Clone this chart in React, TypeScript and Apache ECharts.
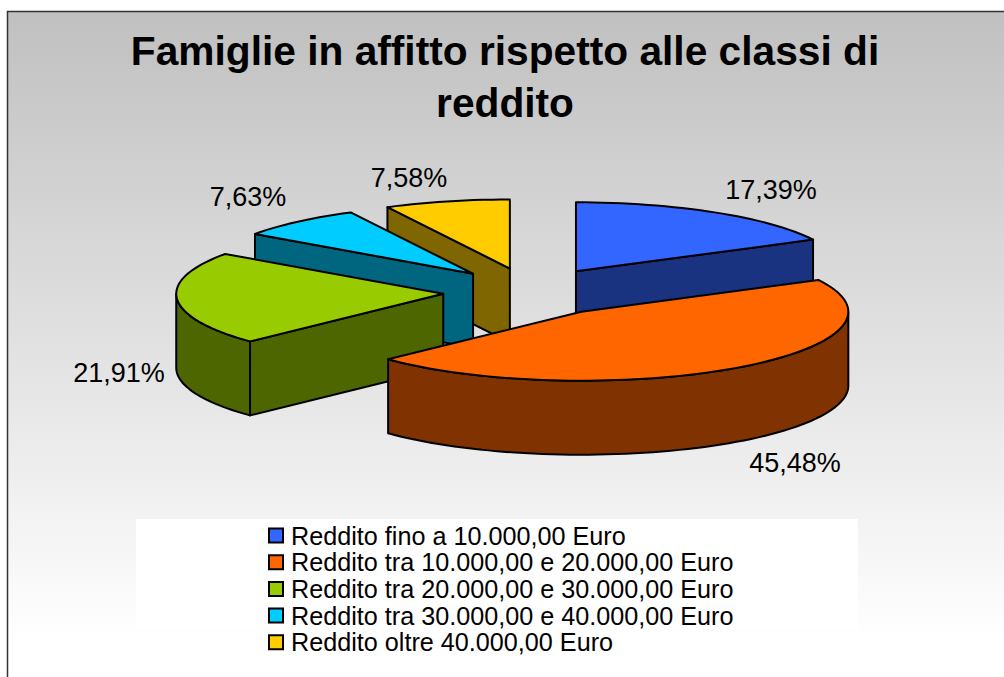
import React, { useEffect, useRef } from "react";
import * as echarts from "echarts";

const titleText = "Famiglie in affitto rispetto alle classi di\nreddito";
const categories = [
  "Reddito fino a 10.000,00 Euro",
  "Reddito tra 10.000,00 e 20.000,00 Euro",
  "Reddito tra 20.000,00 e 30.000,00 Euro",
  "Reddito tra 30.000,00 e 40.000,00 Euro",
  "Reddito oltre 40.000,00 Euro",
];
const shares = [17.39, 45.48, 21.91, 7.63, 7.58];
const topColors = ["#3366FF", "#FF6600", "#99CC00", "#00CCFF", "#FFCC00"];
const sideColors = ["#1A3380", "#803300", "#4D6600", "#006680", "#806600"];
const paintOrder = [0, 4, 3, 2, 1];
const labelAnchors = [
  [771, 190],
  [795, 463],
  [119, 373],
  [248, 197],
  [409, 178],
];

const PIE = { cx: 530.5, cy: 292, rx: 267, ry: 69, depth: 74, explodeX: 87.5, explodeY: 24.2 };
const FONT = '"Liberation Sans", Arial, sans-serif';

const total = shares.reduce((a, b) => a + b, 0);

function sliceAngles(i: number) {
  const before = shares.slice(0, i).reduce((a, b) => a + b, 0);
  const start = (before / total) * Math.PI * 2;
  const end = ((before + shares[i]) / total) * Math.PI * 2;
  return { start, end };
}

function makeRenderItem(i: number) {
  return (_params: any, api: any) => {
    const { start, end } = sliceAngles(i);
    const mid = (start + end) / 2;
    const cx = PIE.cx + PIE.explodeX * Math.sin(mid);
    const cy = PIE.cy - PIE.explodeY * Math.cos(mid);
    const pt = (a: number, dy = 0) => [cx + PIE.rx * Math.sin(a), cy - PIE.ry * Math.cos(a) + dy];
    const steps = Math.max(6, Math.ceil((end - start) / (Math.PI / 90)));
    const arc: number[] = [];
    for (let k = 0; k <= steps; k++) arc.push(start + ((end - start) * k) / steps);

    const line = { stroke: "#000", lineWidth: 2, lineJoin: "round" };
    const side = { fill: sideColors[i], ...line };
    const face = (a: number) => ({
      type: "polygon",
      shape: { points: [[cx, cy], pt(a), pt(a, PIE.depth), [cx, cy + PIE.depth]] },
      style: side,
    });

    const children: any[] = [];
    if (Math.sin(start) < -1e-6) children.push(face(start));
    if (Math.sin(end) > 1e-6) children.push(face(end));
    const rimAngles = arc.filter((a) => a >= Math.PI / 2 && a <= (Math.PI * 3) / 2);
    if (rimAngles.length > 1) {
      const upper = rimAngles.map((a) => pt(a));
      const lower = rimAngles.map((a) => pt(a, PIE.depth)).reverse();
      children.push({ type: "polygon", shape: { points: upper.concat(lower) }, style: side });
    }
    children.push({
      type: "polygon",
      shape: { points: [[cx, cy], ...arc.map((a) => pt(a))] },
      style: { fill: topColors[i], ...line },
    });
    const v = api.value(0) as number;
    children.push({
      type: "text",
      style: {
        text: v.toFixed(2).replace(".", ",") + "%",
        x: labelAnchors[i][0],
        y: labelAnchors[i][1],
        fill: "#000",
        font: `27px ${FONT}`,
        align: "center",
        verticalAlign: "middle",
      },
    });
    return { type: "group", children };
  };
}

export default function App() {
  const ref = useRef<HTMLDivElement>(null);
  useEffect(() => {
    document.body.style.margin = "0";
    const chart = echarts.init(ref.current!, undefined, { renderer: "svg" });
    chart.setOption({
      animation: false,
      backgroundColor: "#fff",
      title: {
        text: titleText,
        left: 500,
        top: 20,
        textAlign: "center",
        textStyle: { fontFamily: FONT, fontWeight: "bold", fontSize: 40.7, lineHeight: 52, color: "#000" },
      },
      legend: {
        orient: "vertical",
        left: 268,
        top: 523,
        padding: 0,
        itemWidth: 14,
        itemHeight: 14,
        itemGap: 1.7,
        icon: "rect",
        data: categories,
        selectedMode: false,
        itemStyle: { borderColor: "#000", borderWidth: 2 },
        textStyle: { fontFamily: FONT, fontSize: 25.2, lineHeight: 20, color: "#000", padding: [0, 0, 0, 3] },
      },
      graphic: [
        {
          type: "rect",
          z: -10,
          silent: true,
          shape: { x: 7.5, y: 11.5, width: 1020, height: 700 },
          style: {
            fill: {
              type: "linear",
              x: 0,
              y: 0,
              x2: 0,
              y2: 1,
              colorStops: [
                { offset: 0, color: "#c0c0c0" },
                { offset: 0.9, color: "#ffffff" },
                { offset: 1, color: "#ffffff" },
              ],
            },
            stroke: "#333",
            lineWidth: 1.5,
          },
        },
        {
          type: "rect",
          z: -9,
          silent: true,
          shape: { x: 136, y: 519, width: 722, height: 110 },
          style: { fill: "#fff" },
        },
      ],
      series: paintOrder.map((i) => ({
        type: "custom",
        name: categories[i],
        coordinateSystem: "none",
        silent: true,
        itemStyle: { color: topColors[i] },
        data: [[shares[i]]],
        renderItem: makeRenderItem(i),
      })),
    });
    return () => chart.dispose();
  }, []);
  return <div ref={ref} style={{ width: 1004, height: 677, position: "absolute", left: 0, top: 0 }} />;
}
